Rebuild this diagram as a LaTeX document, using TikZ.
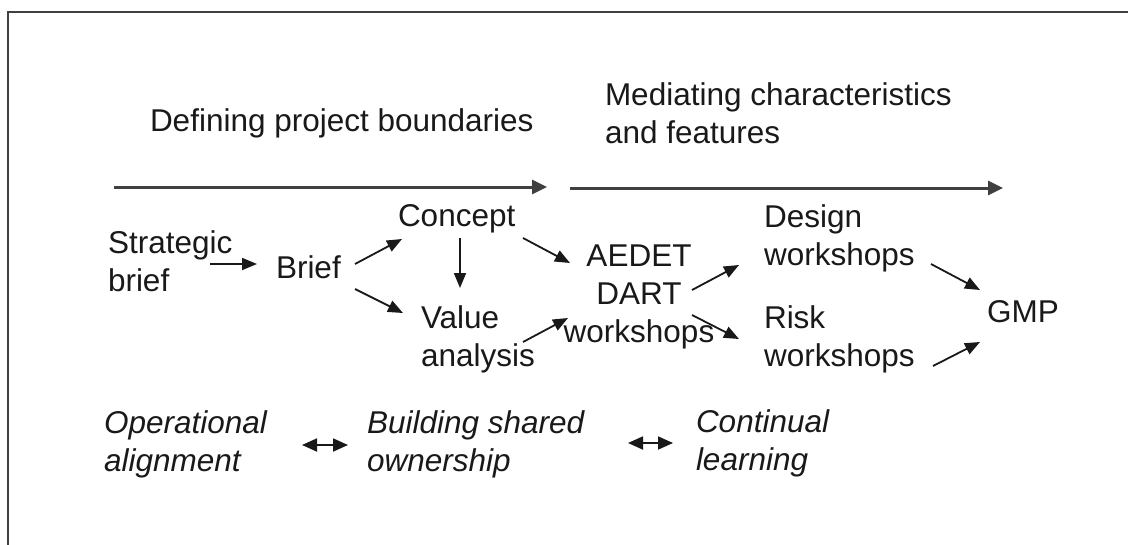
\documentclass[tikz,border=0pt]{standalone}
\usepackage{fontspec}
\setmainfont{Liberation Sans}
\usetikzlibrary{arrows.meta,calc}
\newcommand{\lineset}[2][l]{\begin{tabular}[t]{@{}#1@{}}#2\end{tabular}}
\begin{document}
\begin{tikzpicture}[x=1pt,y=-1pt,
  every node/.style={inner sep=0pt,outer sep=0pt,font=\fontsize{31.5}{38}\selectfont,text=black!90},
  lbl/.style={anchor=base west},
  ital/.style={anchor=base west,font=\fontsize{31.5}{38}\selectfont\itshape},
  framepen/.style={draw=black!75,line width=2pt},
  longarr/.style={draw=black!75,line width=3pt,-{Triangle[length=15pt,width=14pt]}},
  arr/.style={draw=black!90,line width=1.8pt,-{Triangle[length=15pt,width=12pt]}},
  dblarr/.style={draw=black!90,line width=1.8pt,{Triangle[length=15pt,width=13pt]}-{Triangle[length=15pt,width=13pt]}}]
\useasboundingbox (0,0) rectangle (1128,544);
\fill[white] (-10,-10) rectangle (1140,556);
\draw[framepen] (1140,12) -- (7.5,12) -- (7.5,556);

% headers
\node[lbl] (defining) at (150,131) {Defining project boundaries};
\node[lbl] (mediating) at (605,105) {\lineset{Mediating characteristics\\and features}};

% process nodes
\node[lbl] (strategic) at (108,253) {\lineset{Strategic\\brief}};
\node[lbl] (brief) at (276,278) {Brief};
\node[lbl] (concept) at (398,226) {Concept};
\node[lbl] (value) at (421,328) {\lineset{Value\\analysis}};
\node[anchor=base] (aedet) at (639,266) {\lineset[c]{AEDET\\DART\\workshops}};
\node[lbl] (design) at (764,227) {\lineset{Design\\workshops}};
\node[lbl] (risk) at (764,328) {\lineset{Risk\\workshops}};
\node[lbl] (gmp) at (987,322) {GMP};

% bottom italic row
\node[ital] (operational) at (104,433) {\lineset{Operational\\alignment}};
\node[ital] (building) at (367,433) {\lineset{Building shared\\ownership}};
\node[ital] (continual) at (696,432) {\lineset{Continual\\learning}};

% long arrows
\draw[longarr] ($(defining.base west)+(-36,56)$) -- ($(defining.base west)+(397,56)$);
\draw[longarr] ($(mediating.base west)+(-35,83)$) -- ($(mediating.base west)+(398,83)$);

% process arrows
\draw[arr] ($(strategic.base west)+(102,11)$) -- ($(brief.base west)+(-19,-14)$);
\draw[arr] ($(brief.base west)+(79,-14)$) -- ($(concept.base west)+(4,13)$);
\draw[arr] ($(brief.base west)+(79,11)$) -- ($(value.base west)+(-18,-15)$);
\draw[arr] ($(concept.base west)+(62,12)$) -- ($(value.base west)+(39,-40)$);
\draw[arr] ($(concept.base west)+(125,12)$) -- ($(aedet.base)+(-69,-3)$);
\draw[arr] ($(value.base west)+(102,14)$) -- ($(aedet.base)+(-71,52)$);
\draw[arr] ($(aedet.base)+(53,24)$) -- ($(design.base west)+(-25,38)$);
\draw[arr] ($(aedet.base)+(53,49)$) -- ($(risk.base west)+(-25,11)$);
\draw[arr] ($(design.base west)+(167,37)$) -- ($(gmp.base west)+(-7,-32)$);
\draw[arr] ($(risk.base west)+(169,38)$) -- ($(gmp.base west)+(-7,20)$);

% double arrows
\draw[dblarr] ($(operational.base west)+(198,12)$) -- ($(building.base west)+(-19,12)$);
\draw[dblarr] ($(building.base west)+(261,10)$) -- ($(continual.base west)+(-23,11)$);
\end{tikzpicture}
\end{document}
